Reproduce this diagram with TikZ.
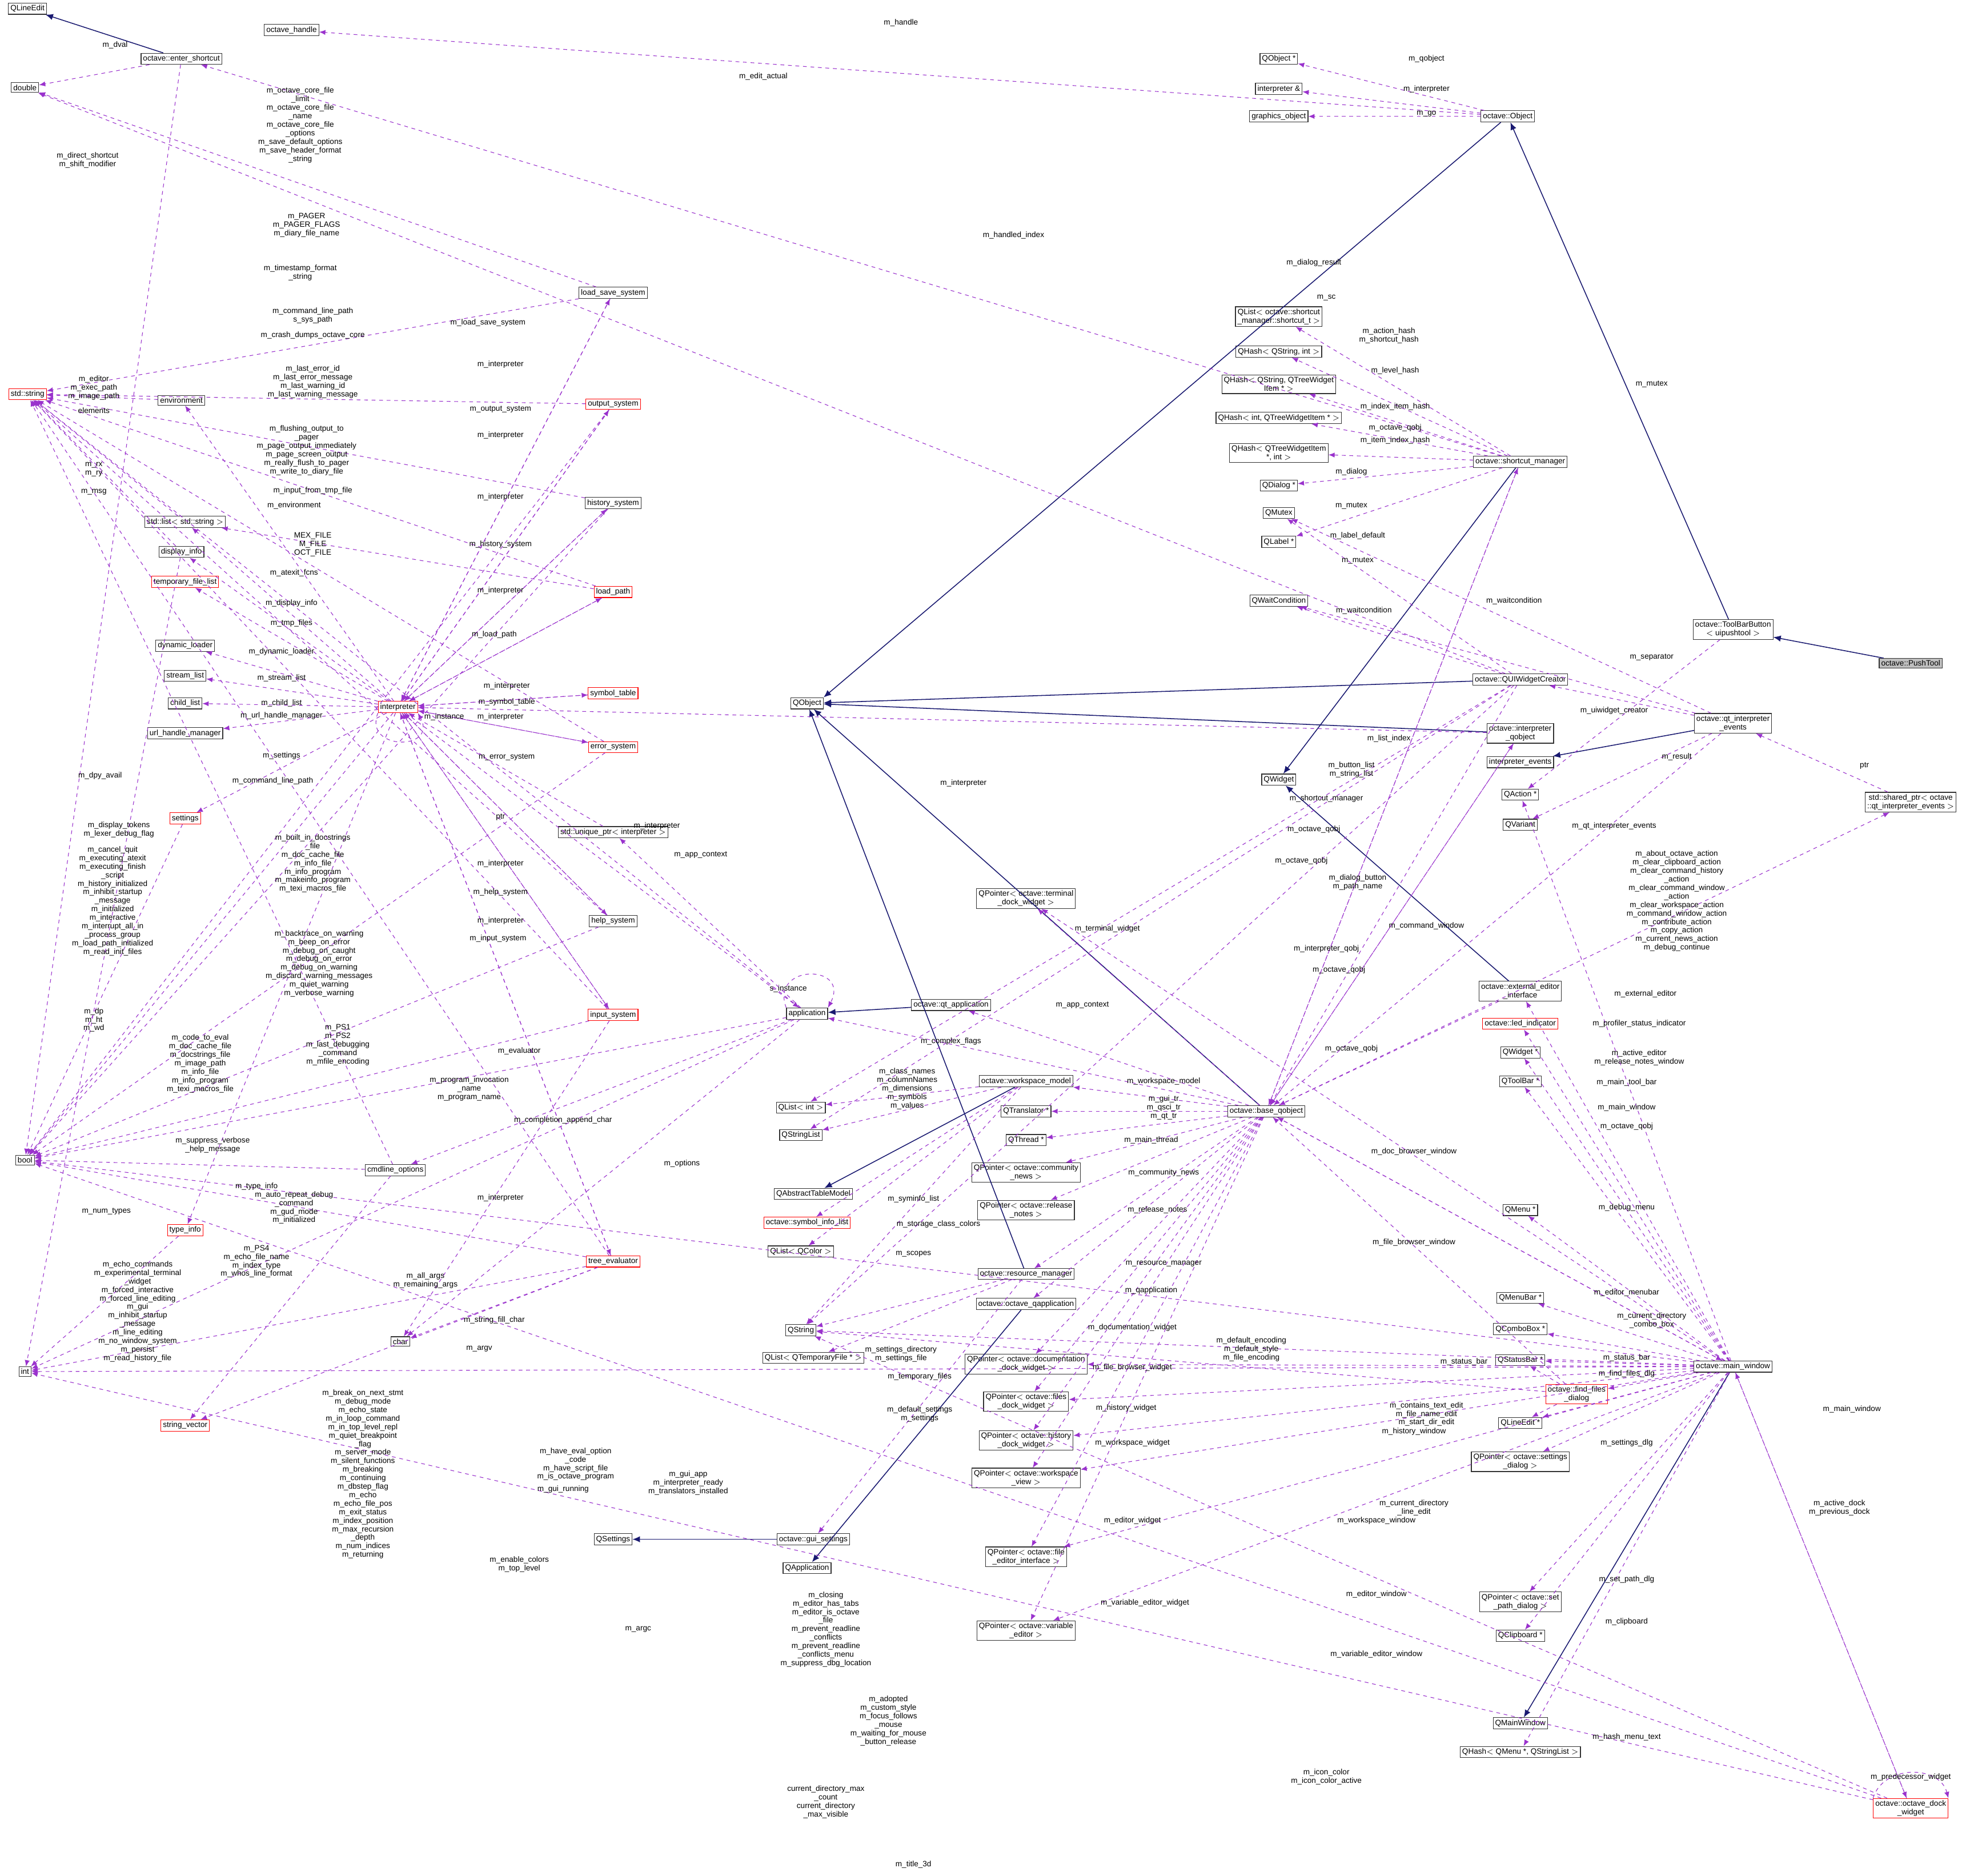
\documentclass[tikz,border=0pt]{standalone}
\usepackage{fontspec}
\setmainfont{Liberation Sans}
\usetikzlibrary{arrows.meta}
\definecolor{navy}{HTML}{191970}
\definecolor{purp}{HTML}{9A32CD}
\newcommand{\ft}{\fontsize{6.2}{6.8}\selectfont}
\tikzset{
cls/.style={draw=black!80,fill=white,font=\ft,inner sep=1.6pt,align=center,line width=0.5pt},
rbox/.style={cls,draw=red},
gbox/.style={cls,fill=black!25},
inh/.style={draw=navy,line width=0.7pt,-{Latex[length=6pt,width=5pt]}},
usee/.style={draw=purp,dashed,line width=0.5pt,-{Latex[length=5pt,width=4pt]}},
lb/.style={font=\ft,align=center,inner sep=0pt}
}
\begin{document}
\begin{tikzpicture}[x=1pt,y=-1pt]
\useasboundingbox[fill=white] (0,0) rectangle (1568,1499);
% ---- left column
\node[cls] (qle) at (22,7) {QLineEdit};
\node[cls] (dbl) at (20,70) {double};
\node[rbox] (str) at (22,315) {std::string};
\node[cls] (env) at (145,320) {environment};
\node[cls] (lst) at (148,417) {std::list$<$ std::string $>$};
\node[cls] (dinfo) at (145,441) {display\_info};
\node[rbox] (tfl) at (148,465) {temporary\_file\_list};
\node[cls] (dl) at (148,516) {dynamic\_loader};
\node[cls] (sl) at (148,540) {stream\_list};
\node[cls] (cl) at (148,562) {child\_list};
\node[cls] (uhm) at (148,586) {url\_handle\_manager};
\node[rbox] (sett) at (148,654) {settings};
\node[cls] (bool) at (20,927) {bool};
\node[cls] (int) at (20,1096) {int};
\node[rbox] (tinfo) at (148,983) {type\_info};
\node[rbox] (sv) at (148,1139) {string\_vector};
\node[cls] (chr) at (320,1072) {char};
\node[cls] (cmd) at (316,935) {cmdline\_options};
\node[rbox] (tev) at (490,1008) {tree\_evaluator};
\node[cls] (oh) at (233,24) {octave\_handle};
\node[cls] (es) at (145,47) {octave::enter\_shortcut};
\node[cls] (lss) at (490,234) {load\_save\_system};
\node[rbox] (outs) at (490,323) {output\_system};
\node[cls] (hist) at (490,402) {history\_system};
\node[rbox] (lp) at (490,473) {load\_path};
\node[rbox] (interp) at (318,565) {interpreter};
\node[rbox] (symt) at (490,554) {symbol\_table};
\node[rbox] (errs) at (490,597) {error\_system};
\node[cls] (uptr) at (490,665) {std::unique\_ptr$<$ interpreter $>$};
\node[cls] (help) at (490,736) {help\_system};
\node[rbox] (inps) at (490,811) {input\_system};
% ---- middle
\node[cls] (qobj) at (645,562) {QObject};
\node[cls] (app) at (645,810) {application};
\node[cls] (qtapp) at (760,803) {octave::qt\_application};
\node[cls] (qli) at (640,885) {QList$<$ int $>$};
\node[cls] (qsl) at (640,907) {QStringList};
\node[cls] (qatm) at (650,954) {QAbstractTableModel};
\node[rbox] (sil) at (645,977) {octave::symbol\_info\_list};
\node[cls] (qlc) at (640,1000) {QList$<$ QColor $>$};
\node[cls] (qstr) at (640,1063) {QString};
\node[cls] (qltf) at (650,1085) {QList$<$ QTemporaryFile * $>$};
\node[cls] (qset) at (490,1230) {QSettings};
\node[cls] (gset) at (650,1230) {octave::gui\_settings};
\node[cls] (qapp) at (645,1253) {QApplication};
\node[cls] (pterm) at (820,718) {QPointer$<$ octave::terminal\\\_dock\_widget $>$};
\node[cls] (wsm) at (820,864) {octave::workspace\_model};
\node[cls] (qtr) at (820,888) {QTranslator *};
\node[cls] (qth) at (820,911) {QThread *};
\node[cls] (pcn) at (820,937) {QPointer$<$ octave::community\\\_news $>$};
\node[cls] (prn) at (820,967) {QPointer$<$ octave::release\\\_notes $>$};
\node[cls] (rman) at (820,1018) {octave::resource\_manager};
\node[cls] (oqa) at (820,1042) {octave::octave\_qapplication};
\node[cls] (pdoc) at (820,1090) {QPointer$<$ octave::documentation\\\_dock\_widget $>$};
\node[cls] (pfil) at (820,1120) {QPointer$<$ octave::files\\\_dock\_widget $>$};
\node[cls] (phis) at (820,1151) {QPointer$<$ octave::history\\\_dock\_widget $>$};
\node[cls] (pws) at (820,1181) {QPointer$<$ octave::workspace\\\_view $>$};
\node[cls] (pfe) at (820,1244) {QPointer$<$ octave::file\\\_editor\_interface $>$};
\node[cls] (pve) at (820,1303) {QPointer$<$ octave::variable\\\_editor $>$};
\node[cls] (bq) at (1012,888) {octave::base\_qobject};
% ---- right
\node[cls] (qobjp) at (1022,47) {QObject *};
\node[cls] (intref) at (1022,71) {interpreter \&};
\node[cls] (gobj) at (1022,93) {graphics\_object};
\node[cls] (obj) at (1205,93) {octave::Object};
\node[cls] (qlsc) at (1022,253) {QList$<$ octave::shortcut\\\_manager::shortcut\_t $>$};
\node[cls] (qh1) at (1022,281) {QHash$<$ QString, int $>$};
\node[cls] (qh2) at (1022,307) {QHash$<$ QString, QTreeWidget\\Item * $>$};
\node[cls] (qh3) at (1022,334) {QHash$<$ int, QTreeWidgetItem * $>$};
\node[cls] (qh4) at (1022,362) {QHash$<$ QTreeWidgetItem\\*, int $>$};
\node[cls] (qdlg) at (1022,388) {QDialog *};
\node[cls] (qmtx) at (1022,410) {QMutex};
\node[cls] (qlbl) at (1022,433) {QLabel *};
\node[cls] (scm) at (1215,369) {octave::shortcut\_manager};
\node[cls] (qwc) at (1022,480) {QWaitCondition};
\node[cls] (quiwc) at (1215,543) {octave::QUIWidgetCreator};
\node[cls] (iqo) at (1215,586) {octave::interpreter\\\_qobject};
\node[cls] (iev) at (1215,609) {interpreter\_events};
\node[cls] (qw) at (1022,623) {QWidget};
\node[cls] (qact) at (1215,635) {QAction *};
\node[cls] (qvar) at (1215,659) {QVariant};
\node[cls] (tbb) at (1385,503) {octave::ToolBarButton\\$<$ uipushtool $>$};
\node[gbox] (pt) at (1527,530) {octave::PushTool};
\node[cls] (qie) at (1385,578) {octave::qt\_interpreter\\\_events};
\node[cls] (sptr) at (1527,641) {std::shared\_ptr$<$ octave\\::qt\_interpreter\_events $>$};
\node[cls] (eei) at (1215,792) {octave::external\_editor\\\_interface};
\node[rbox] (led) at (1215,818) {octave::led\_indicator};
\node[cls] (qwp) at (1215,841) {QWidget *};
\node[cls] (qtb) at (1215,864) {QToolBar *};
\node[cls] (qmenu) at (1215,967) {QMenu *};
\node[cls] (qmb) at (1215,1037) {QMenuBar *};
\node[cls] (qcb) at (1215,1062) {QComboBox *};
\node[cls] (qsb) at (1215,1087) {QStatusBar *};
\node[rbox] (ffd) at (1260,1114) {octave::find\_files\\\_dialog};
\node[cls] (qlep) at (1215,1137) {QLineEdit *};
\node[cls] (psd) at (1215,1168) {QPointer$<$ octave::settings\\\_dialog $>$};
\node[cls] (pspd) at (1215,1280) {QPointer$<$ octave::set\\\_path\_dialog $>$};
\node[cls] (qclip) at (1215,1307) {QClipboard *};
\node[cls] (qmw) at (1215,1377) {QMainWindow};
\node[cls] (qhm) at (1215,1400) {QHash$<$ QMenu *, QStringList $>$};
\node[cls] (mw) at (1385,1092) {octave::main\_window};
\node[rbox] (odw) at (1527,1445) {octave::octave\_dock\\\_widget};

% ---- inheritance
\draw[inh] (es) -- (qle);
\draw[inh] (obj) -- (qobj.north east);
\draw[inh] (tbb) -- (obj);
\draw[inh] (pt) -- (tbb);
\draw[inh] (quiwc) -- (qobj);
\draw[inh] (iqo) -- (qobj);
\draw[inh] (qie) -- (iev);
\draw[inh] (scm) -- (qw);
\draw[inh] (eei) -- (qw);
\draw[inh] (bq) -- (qobj);
\draw[inh] (qtapp) -- (app);
\draw[inh] (wsm) -- (qatm);
\draw[inh] (rman) -- (qobj);
\draw[inh] (oqa) -- (qapp);
\draw[inh] (gset) -- (qset);
\draw[inh] (mw) -- (qmw);

% ---- usage
\foreach \a/\b in {obj/oh,scm/es,es/dbl,es/bool,obj/qobjp,obj/intref,obj/gobj,
 lss/dbl,lss/str,outs/str,hist/str,lp/str,errs/str,env/str,lst/str,dinfo/str,
 outs/bool,hist/bool,interp/bool,errs/bool,inps/str,inps/bool,dinfo/int,tinfo/int,
 tev/int,tev/bool,tev/str,tev/chr,inps/chr,cmd/str,cmd/bool,cmd/sv,
 interp/env,interp/lst,interp/dinfo,interp/tfl,interp/dl,interp/sl,interp/cl,interp/uhm,interp/sett,
 interp/lss,interp/outs,interp/hist,interp/lp,interp/symt,interp/errs,interp/help,interp/inps,interp/tinfo,interp/tev,interp/app,
 lss/interp,outs/interp,hist/interp,lp/interp,symt/interp,errs/interp,help/interp,inps/interp,tev/interp,uptr/interp,iqo/interp,
 app/uptr,app/cmd,app/bool,app/int,app/chr,sett/bool,help/str,help/bool,lp/lst,tev/sv,
 bq/qtapp,bq/app,bq/wsm,bq/qtr,bq/qth,bq/pcn,bq/prn,bq/rman,bq/oqa,bq/pdoc,bq/pfil,bq/phis,bq/pws,bq/pfe,bq/pve,bq/pterm,
 bq/sptr,bq/scm,bq/iqo,bq/mw,iqo/bq,qie/bq,scm/bq,eei/bq,mw/bq,ffd/bq,quiwc/bq,
 wsm/qli,wsm/qsl,wsm/sil,wsm/qlc,wsm/qstr,rman/qstr,rman/qltf,rman/gset,
 scm/qlsc,scm/qh1,scm/qh2,scm/qh3,scm/qh4,scm/qdlg,scm/qlbl,
 quiwc/qwc,quiwc/qmtx,quiwc/qstr,quiwc/qli,quiwc/qsl,quiwc/dbl,
 qie/quiwc,qie/qmtx,qie/qwc,qie/qvar,sptr/qie,tbb/qact,
 mw/eei,mw/led,mw/qwp,mw/qtb,mw/qmenu,mw/qmb,mw/qcb,mw/qsb,mw/ffd,mw/qlep,mw/psd,mw/pspd,mw/qclip,mw/qhm,mw/qact,
 mw/pterm,mw/pdoc,mw/pfil,mw/phis,mw/pws,mw/pfe,mw/pve,mw/odw,odw/mw,mw/bool,mw/int,mw/qstr,
 odw/qstr,odw/bool,odw/int,ffd/qsb,ffd/qlep,ffd/qstr,app/str}
 \draw[usee] (\a) -- (\b);
\draw[usee] (interp.south west) .. controls (290,600) and (350,600) .. (interp.south east);
\draw[usee] (app.north west) .. controls (615,770) and (680,770) .. (app.north east);
\draw[usee] (odw.north west) .. controls (1505,1410) and (1550,1410) .. (odw.north east);

% ---- labels
\foreach \p/\t in {
(92,36)/m\_dval,(70,128)/m\_direct\_shortcut\\m\_shift\_modifier,(610,61)/m\_edit\_actual,(720,18)/m\_handle,
(1140,47)/m\_qobject,(1140,71)/m\_interpreter,(1140,91)/m\_go,
(240,100)/m\_octave\_core\_file\\\_limit\\m\_octave\_core\_file\\\_name\\m\_octave\_core\_file\\\_options\\m\_save\_default\_options\\m\_save\_header\_format\\\_string,
(245,180)/m\_PAGER\\m\_PAGER\_FLAGS\\m\_diary\_file\_name,(240,218)/m\_timestamp\_format\\\_string,
(250,252)/m\_command\_line\_path\\s\_sys\_path,(250,268)/m\_crash\_dumps\_octave\_core,
(250,305)/m\_last\_error\_id\\m\_last\_error\_message\\m\_last\_warning\_id\\m\_last\_warning\_message,
(75,310)/m\_editor\\m\_exec\_path\\m\_image\_path,(75,328)/elements,(75,375)/m\_rx\\m\_ry,(75,393)/m\_msg,
(245,360)/m\_flushing\_output\_to\\\_pager\\m\_page\_output\_immediately\\m\_page\_screen\_output\\m\_really\_flush\_to\_pager\\m\_write\_to\_diary\_file,
(250,392)/m\_input\_from\_tmp\_file,(235,404)/m\_environment,(250,435)/MEX\_FILE\\M\_FILE\\OCT\_FILE,
(235,458)/m\_atexit\_fcns,(233,482)/m\_display\_info,(233,498)/m\_tmp\_files,(225,521)/m\_dynamic\_loader,
(225,542)/m\_stream\_list,(225,562)/m\_child\_list,(225,572)/m\_url\_handle\_manager,(225,604)/m\_settings,
(218,624)/m\_command\_line\_path,(80,620)/m\_dpy\_avail,
(390,258)/m\_load\_save\_system,(400,291)/m\_interpreter,(400,327)/m\_output\_system,(400,348)/m\_interpreter,
(400,397)/m\_interpreter,(400,435)/m\_history\_system,(400,472)/m\_interpreter,(395,507)/m\_load\_path,
(405,548)/m\_interpreter,(405,561)/m\_symbol\_table,(400,573)/m\_interpreter,(405,605)/m\_error\_system,
(400,653)/ptr,(400,690)/m\_interpreter,(400,713)/m\_help\_system,(400,736)/m\_interpreter,(398,750)/m\_input\_system,
(355,573)/m\_instance,(525,660)/m\_interpreter,(560,683)/m\_app\_context,(630,790)/s\_instance,
(90,720)/m\_cancel\_quit\\m\_executing\_atexit\\m\_executing\_finish\\\_script\\m\_history\_initialized\\m\_inhibit\_startup\\\_message\\m\_initialized\\m\_interactive\\m\_interrupt\_all\_in\\\_process\_group\\m\_load\_path\_initialized\\m\_read\_init\_files,
(95,663)/m\_display\_tokens\\m\_lexer\_debug\_flag,
(250,690)/m\_built\_in\_docstrings\\\_file\\m\_doc\_cache\_file\\m\_info\_file\\m\_info\_program\\m\_makeinfo\_program\\m\_texi\_macros\_file,
(255,770)/m\_backtrace\_on\_warning\\m\_beep\_on\_error\\m\_debug\_on\_caught\\m\_debug\_on\_error\\m\_debug\_on\_warning\\m\_discard\_warning\_messages\\m\_quiet\_warning\\m\_verbose\_warning,
(270,835)/m\_PS1\\m\_PS2\\m\_last\_debugging\\\_command\\m\_mfile\_encoding,
(160,850)/m\_code\_to\_eval\\m\_doc\_cache\_file\\m\_docstrings\_file\\m\_image\_path\\m\_info\_file\\m\_info\_program\\m\_texi\_macros\_file,
(75,815)/m\_dp\\m\_ht\\m\_wd,(415,840)/m\_evaluator,(375,870)/m\_program\_invocation\\\_name\\m\_program\_name,
(170,915)/m\_suppress\_verbose\\\_help\_message,(205,948)/m\_type\_info,(450,895)/m\_completion\_append\_char,
(235,965)/m\_auto\_repeat\_debug\\\_command\\m\_gud\_mode\\m\_initialized,(85,968)/m\_num\_types,
(205,1008)/m\_PS4\\m\_echo\_file\_name\\m\_index\_type\\m\_whos\_line\_format,
(110,1048)/m\_echo\_commands\\m\_experimental\_terminal\\\_widget\\m\_forced\_interactive\\m\_forced\_line\_editing\\m\_gui\\m\_inhibit\_startup\\\_message\\m\_line\_editing\\m\_no\_window\_system\\m\_persist\\m\_read\_history\_file,
(340,1023)/m\_all\_args\\m\_remaining\_args,(400,957)/m\_interpreter,(395,1055)/m\_string\_fill\_char,(383,1078)/m\_argv,
(290,1178)/m\_break\_on\_next\_stmt\\m\_debug\_mode\\m\_echo\_state\\m\_in\_loop\_command\\m\_in\_top\_level\_repl\\m\_quiet\_breakpoint\\\_flag\\m\_server\_mode\\m\_silent\_functions\\m\_breaking\\m\_continuing\\m\_dbstep\_flag\\m\_echo\\m\_echo\_file\_pos\\m\_exit\_status\\m\_index\_position\\m\_max\_recursion\\\_depth\\m\_num\_indices\\m\_returning,
(460,1170)/m\_have\_eval\_option\\\_code\\m\_have\_script\_file\\m\_is\_octave\_program,(450,1190)/m\_gui\_running,
(550,1185)/m\_gui\_app\\m\_interpreter\_ready\\m\_translators\_installed,(415,1250)/m\_enable\_colors\\m\_top\_level,
(660,1302)/m\_closing\\m\_editor\_has\_tabs\\m\_editor\_is\_octave\\\_file\\m\_prevent\_readline\\\_conflicts\\m\_prevent\_readline\\\_conflicts\_menu\\m\_suppress\_dbg\_location,
(510,1302)/m\_argc,(710,1375)/m\_adopted\\m\_custom\_style\\m\_focus\_follows\\\_mouse\\m\_waiting\_for\_mouse\\\_button\_release,
(660,1440)/current\_directory\_max\\\_count\\current\_directory\\\_max\_visible,(730,1490)/m\_title\_3d,
(1060,1420)/m\_icon\_color\\m\_icon\_color\_active,
(545,930)/m\_options,(865,803)/m\_app\_context,(760,832)/m\_complex\_flags,
(725,870)/m\_class\_names\\m\_columnNames\\m\_dimensions\\m\_symbols\\m\_values,(730,958)/m\_syminfo\_list,
(750,978)/m\_storage\_class\_colors,(730,1002)/m\_scopes,(720,1082)/m\_settings\_directory\\m\_settings\_file,
(735,1100)/m\_temporary\_files,(735,1130)/m\_default\_settings\\m\_settings,
(930,864)/m\_workspace\_model,(930,885)/m\_gui\_tr\\m\_qsci\_tr\\m\_qt\_tr,(920,911)/m\_main\_thread,
(930,937)/m\_community\_news,(925,967)/m\_release\_notes,(930,1010)/m\_resource\_manager,(920,1031)/m\_qapplication,
(905,1061)/m\_documentation\_widget,(905,1093)/m\_file\_browser\_widget,(900,1125)/m\_history\_widget,
(905,1153)/m\_workspace\_widget,(905,1215)/m\_editor\_widget,(915,1281)/m\_variable\_editor\_widget,
(885,742)/m\_terminal\_widget,(1000,1078)/m\_default\_encoding\\m\_default\_style\\m\_file\_encoding,
(1060,238)/m\_sc,(1110,268)/m\_action\_hash\\m\_shortcut\_hash,(1115,296)/m\_level\_hash,(1115,325)/m\_index\_item\_hash,
(1115,352)/m\_item\_index\_hash,(1080,377)/m\_dialog,(1085,428)/m\_label\_default,(1080,404)/m\_mutex,
(1085,448)/m\_mutex,(1115,342)/m\_octave\_qobj,(1090,488)/m\_waitcondition,(1210,480)/m\_waitcondition,
(1320,307)/m\_mutex,(1110,590)/m\_list\_index,(1080,615)/m\_button\_list\\m\_string\_list,
(1060,638)/m\_shortcut\_manager,(1050,663)/m\_octave\_qobj,(1085,705)/m\_dialog\_button\\m\_path\_name,
(1060,758)/m\_interpreter\_qobj,(1070,775)/m\_octave\_qobj,(1080,838)/m\_octave\_qobj,(1040,688)/m\_octave\_qobj,
(1050,210)/m\_dialog\_result,(810,188)/m\_handled\_index,(1320,525)/m\_separator,(1290,568)/m\_uiwidget\_creator,
(1340,605)/m\_result,(1490,612)/ptr,(1290,660)/m\_qt\_interpreter\_events,(770,626)/m\_interpreter,
(1340,720)/m\_about\_octave\_action\\m\_clear\_clipboard\_action\\m\_clear\_command\_history\\\_action\\m\_clear\_command\_window\\\_action\\m\_clear\_workspace\_action\\m\_command\_window\_action\\m\_contribute\_action\\m\_copy\_action\\m\_current\_news\_action\\m\_debug\_continue,
(1140,740)/m\_command\_window,(1315,794)/m\_external\_editor,(1310,818)/m\_profiler\_status\_indicator,
(1310,845)/m\_active\_editor\\m\_release\_notes\_window,(1300,865)/m\_main\_tool\_bar,(1300,885)/m\_main\_window,
(1300,900)/m\_octave\_qobj,(1130,920)/m\_doc\_browser\_window,(1300,965)/m\_debug\_menu,(1130,993)/m\_file\_browser\_window,
(1300,1033)/m\_editor\_menubar,(1320,1055)/m\_current\_directory\\\_combo\_box,(1300,1085)/m\_status\_bar,(1300,1098)/m\_find\_files\_dlg,
(1170,1088)/m\_status\_bar,(1140,1130)/m\_contains\_text\_edit\\m\_file\_name\_edit\\m\_start\_dir\_edit,(1130,1144)/m\_history\_window,
(1300,1153)/m\_settings\_dlg,(1130,1205)/m\_current\_directory\\\_line\_edit,(1100,1215)/m\_workspace\_window,
(1100,1274)/m\_editor\_window,(1300,1262)/m\_set\_path\_dlg,(1300,1296)/m\_clipboard,
(1100,1322)/m\_variable\_editor\_window,(1300,1388)/m\_hash\_menu\_text,(1480,1126)/m\_main\_window,
(1470,1205)/m\_active\_dock\\m\_previous\_dock,(1527,1420)/m\_predecessor\_widget}
 \node[lb] at \p {\t};
\end{tikzpicture}
\end{document}
